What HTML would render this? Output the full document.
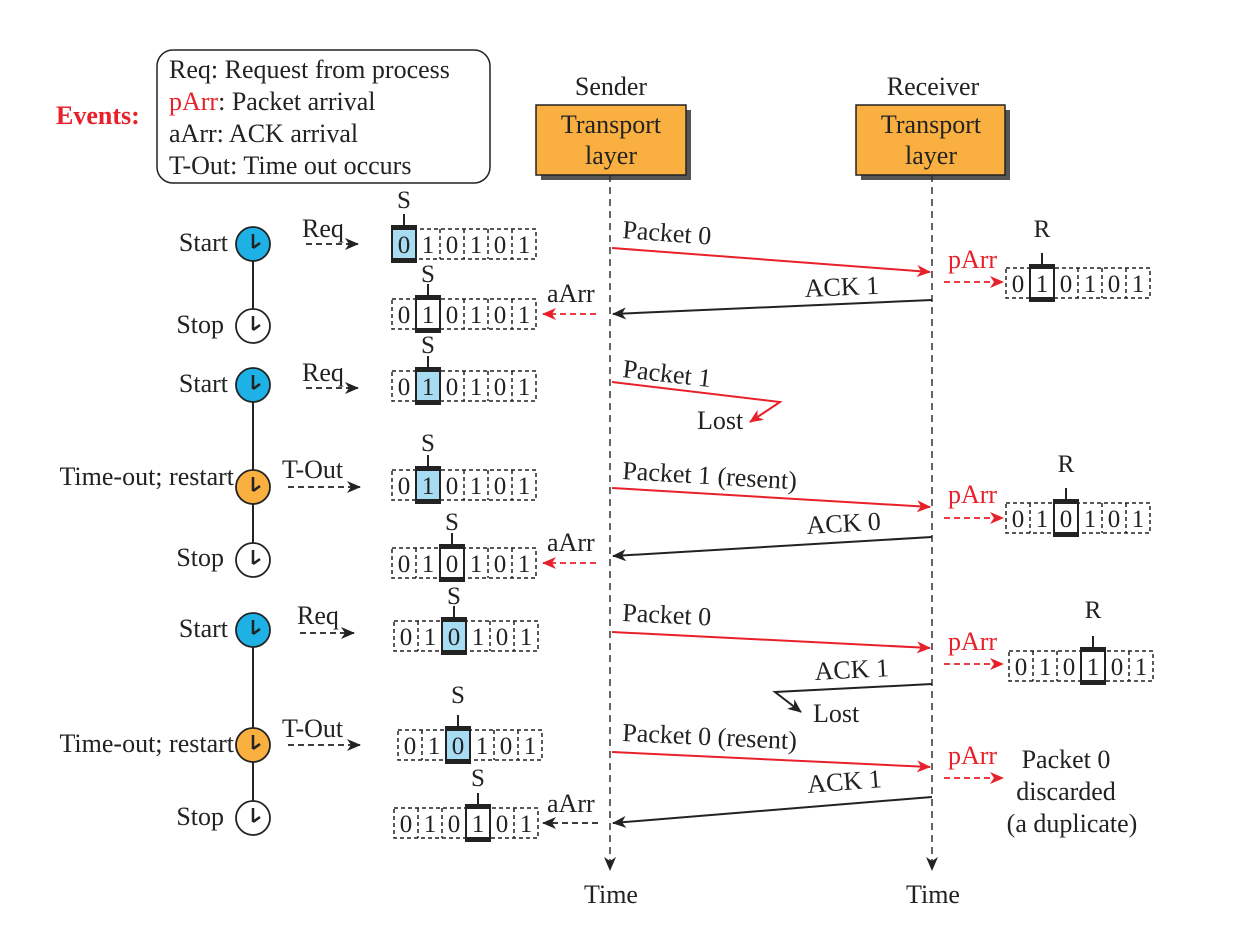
<!DOCTYPE html>
<html><head><meta charset="utf-8"><style>
html,body{margin:0;padding:0;background:#fff;}
svg{display:block;font-family:"Liberation Serif",serif;}
</style></head><body>
<svg width="1238" height="926" viewBox="0 0 1238 926" xmlns="http://www.w3.org/2000/svg">
<defs>
<marker id="ab" markerWidth="14" markerHeight="12" refX="13" refY="6" orient="auto" markerUnits="userSpaceOnUse"><path d="M0,0 L14,6 L0,12 L4,6 Z" fill="#222"/></marker>
<marker id="ar" markerWidth="14" markerHeight="12" refX="13" refY="6" orient="auto" markerUnits="userSpaceOnUse"><path d="M0,0 L14,6 L0,12 L4,6 Z" fill="#e8202a"/></marker>
<g id="strip"><rect x="0" y="-15" width="144" height="30" fill="none" stroke="#222" stroke-width="1.5" stroke-dasharray="4,3"/>
<g stroke="#222" stroke-width="1.5" stroke-dasharray="4,3"><line x1="24" y1="-15" x2="24" y2="15"/><line x1="48" y1="-15" x2="48" y2="15"/><line x1="72" y1="-15" x2="72" y2="15"/><line x1="96" y1="-15" x2="96" y2="15"/><line x1="120" y1="-15" x2="120" y2="15"/></g></g>
<g id="hb"><rect x="0" y="-15" width="24" height="30" fill="#a8dcf3" stroke="#222" stroke-width="2"/><rect x="-1" y="-19" width="26" height="5" fill="#222"/><rect x="-1" y="14" width="26" height="5" fill="#222"/><line x1="12" y1="-19" x2="12" y2="-30" stroke="#222" stroke-width="2"/></g>
<g id="hw"><rect x="0" y="-15" width="24" height="30" fill="#fff" stroke="#222" stroke-width="2"/><rect x="-1" y="-19" width="26" height="5" fill="#222"/><rect x="-1" y="14" width="26" height="5" fill="#222"/><line x1="12" y1="-19" x2="12" y2="-30" stroke="#222" stroke-width="2"/></g>
<g id="hand"><line x1="0" y1="4" x2="0" y2="-10" stroke="#222" stroke-width="2.5"/><line x1="0" y1="4" x2="7" y2="-1" stroke="#222" stroke-width="2.5"/></g>
</defs>

<rect x="157" y="50" width="333" height="133" rx="16" fill="#fff" stroke="#222" stroke-width="1.5"/>
<g font-size="26" fill="#222">
<text x="169" y="78">Req: Request from process</text>
<text x="169" y="110"><tspan fill="#e8202a">pArr</tspan>: Packet arrival</text>
<text x="169" y="142">aArr: ACK arrival</text>
<text x="169" y="174">T-Out: Time out occurs</text>
</g>
<text x="56" y="124" font-size="26" font-weight="bold" fill="#e8202a">Events:</text>

<text x="611" y="95" font-size="26" text-anchor="middle" fill="#222">Sender</text>
<text x="933" y="95" font-size="26" text-anchor="middle" fill="#222">Receiver</text>
<rect x="541" y="110" width="150" height="70" fill="#555"/>
<rect x="536" y="105" width="150" height="70" fill="#f9b040" stroke="#222" stroke-width="1.5"/>
<rect x="861" y="110" width="149" height="70" fill="#555"/>
<rect x="856" y="105" width="149" height="70" fill="#f9b040" stroke="#222" stroke-width="1.5"/>
<g font-size="26" text-anchor="middle" fill="#222">
<text x="611" y="133">Transport</text><text x="611" y="164">layer</text>
<text x="931" y="133">Transport</text><text x="931" y="164">layer</text>
</g>

<line x1="610" y1="175" x2="610" y2="870" stroke="#333" stroke-width="1.5" stroke-dasharray="7,5" marker-end="url(#ab)"/>
<line x1="932" y1="175" x2="932" y2="870" stroke="#333" stroke-width="1.5" stroke-dasharray="7,5" marker-end="url(#ab)"/>
<text x="611" y="903" font-size="26" text-anchor="middle" fill="#222">Time</text>
<text x="933" y="903" font-size="26" text-anchor="middle" fill="#222">Time</text>

<g stroke="#222" stroke-width="2"><line x1="253" y1="244" x2="253" y2="326"/><line x1="253" y1="385" x2="253" y2="560"/><line x1="253" y1="630" x2="253" y2="818"/></g>
<g stroke="#222" stroke-width="1.8">
<circle cx="253" cy="244" r="17" fill="#1eb1e6"/><circle cx="253" cy="326" r="17" fill="#fff"/>
<circle cx="253" cy="385" r="17" fill="#1eb1e6"/><circle cx="253" cy="487" r="17" fill="#f9b040"/>
<circle cx="253" cy="560" r="17" fill="#fff"/><circle cx="253" cy="630" r="17" fill="#1eb1e6"/>
<circle cx="253" cy="745" r="17" fill="#f9b040"/><circle cx="253" cy="818" r="17" fill="#fff"/>
</g>
<use href="#hand" x="253" y="244"/><use href="#hand" x="253" y="326"/><use href="#hand" x="253" y="385"/><use href="#hand" x="253" y="487"/><use href="#hand" x="253" y="560"/><use href="#hand" x="253" y="630"/><use href="#hand" x="253" y="745"/><use href="#hand" x="253" y="818"/>
<g font-size="26" fill="#222" text-anchor="end">
<text x="228" y="251">Start</text><text x="224" y="333">Stop</text><text x="228" y="392">Start</text>
<text x="234" y="485">Time-out; restart</text><text x="224" y="566">Stop</text><text x="228" y="637">Start</text>
<text x="234" y="752">Time-out; restart</text><text x="224" y="825">Stop</text>
</g>

<g stroke="#222" stroke-width="1.8" stroke-dasharray="6,4" fill="none">
<line x1="306" y1="244" x2="358" y2="244" marker-end="url(#ab)"/>
<line x1="306" y1="388" x2="358" y2="388" marker-end="url(#ab)"/>
<line x1="288" y1="487" x2="360" y2="487" marker-end="url(#ab)"/>
<line x1="300" y1="633" x2="354" y2="633" marker-end="url(#ab)"/>
<line x1="288" y1="745" x2="360" y2="745" marker-end="url(#ab)"/>
<line x1="598" y1="823" x2="543" y2="823" marker-end="url(#ab)"/>
</g>
<g stroke="#e8202a" stroke-width="1.8" stroke-dasharray="6,4" fill="none">
<line x1="596" y1="314" x2="543" y2="314" marker-end="url(#ar)"/>
<line x1="596" y1="563" x2="543" y2="563" marker-end="url(#ar)"/>
<line x1="944" y1="282" x2="1003" y2="282" marker-end="url(#ar)"/>
<line x1="944" y1="518" x2="1003" y2="518" marker-end="url(#ar)"/>
<line x1="944" y1="664" x2="1003" y2="664" marker-end="url(#ar)"/>
<line x1="944" y1="778" x2="1003" y2="778" marker-end="url(#ar)"/>
</g>
<g font-size="26" fill="#222">
<text x="302" y="237">Req</text><text x="302" y="381">Req</text><text x="282" y="478">T-Out</text>
<text x="297" y="624">Req</text><text x="282" y="737">T-Out</text>
<text x="547" y="302">aArr</text><text x="547" y="551">aArr</text><text x="547" y="812">aArr</text>
</g>
<g font-size="26" fill="#e8202a">
<text x="948" y="268">pArr</text><text x="948" y="503">pArr</text><text x="948" y="650">pArr</text><text x="948" y="764">pArr</text>
</g>
<g font-size="26" fill="#222" text-anchor="middle">
<text x="1066" y="768">Packet 0</text><text x="1066" y="800">discarded</text><text x="1072" y="832">(a duplicate)</text>
</g>

<g stroke="#e8202a" stroke-width="2" fill="none">
<line x1="612" y1="248" x2="930" y2="272" marker-end="url(#ar)"/>
<polyline points="612,382 780,402 750,422" marker-end="url(#ar)"/>
<line x1="612" y1="488" x2="930" y2="507" marker-end="url(#ar)"/>
<line x1="612" y1="632" x2="930" y2="648" marker-end="url(#ar)"/>
<line x1="612" y1="752" x2="930" y2="767" marker-end="url(#ar)"/>
</g>
<g stroke="#222" stroke-width="2" fill="none">
<line x1="932" y1="300" x2="613" y2="314" marker-end="url(#ab)"/>
<line x1="932" y1="537" x2="613" y2="556" marker-end="url(#ab)"/>
<polyline points="932,684 775,692 801,712" marker-end="url(#ab)"/>
<line x1="932" y1="797" x2="613" y2="823" marker-end="url(#ab)"/>
</g>
<g font-size="26" fill="#222">
<text x="622" y="238" transform="rotate(4.3 622 238)">Packet 0</text>
<text x="622" y="377" transform="rotate(6.5 622 377)">Packet 1</text>
<text x="697" y="429">Lost</text>
<text x="622" y="479" transform="rotate(3.4 622 479)">Packet 1 (resent)</text>
<text x="622" y="621" transform="rotate(2.9 622 621)">Packet 0</text>
<text x="622" y="741" transform="rotate(2.7 622 741)">Packet 0 (resent)</text>
<text x="813" y="722">Lost</text>
<text x="805" y="297" transform="rotate(-2.5 805 297)">ACK 1</text>
<text x="807" y="534" transform="rotate(-3.4 807 534)">ACK 0</text>
<text x="815" y="680" transform="rotate(-2.9 815 680)">ACK 1</text>
<text x="808" y="793" transform="rotate(-4.6 808 793)">ACK 1</text>
</g>

<g font-size="25" fill="#222" text-anchor="middle">
<g transform="translate(392,244)"><use href="#strip"/><use href="#hb" x="0"/><text x="12" y="-36">S</text>
<text x="12" y="9">0</text><text x="36" y="9">1</text><text x="60" y="9">0</text><text x="84" y="9">1</text><text x="108" y="9">0</text><text x="132" y="9">1</text></g>
<g transform="translate(392,314)"><use href="#strip"/><use href="#hw" x="24"/><text x="36" y="-32">S</text>
<text x="12" y="9">0</text><text x="36" y="9">1</text><text x="60" y="9">0</text><text x="84" y="9">1</text><text x="108" y="9">0</text><text x="132" y="9">1</text></g>
<g transform="translate(392,386)"><use href="#strip"/><use href="#hb" x="24"/><text x="36" y="-33">S</text>
<text x="12" y="9">0</text><text x="36" y="9">1</text><text x="60" y="9">0</text><text x="84" y="9">1</text><text x="108" y="9">0</text><text x="132" y="9">1</text></g>
<g transform="translate(392,485)"><use href="#strip"/><use href="#hb" x="24"/><text x="36" y="-34">S</text>
<text x="12" y="9">0</text><text x="36" y="9">1</text><text x="60" y="9">0</text><text x="84" y="9">1</text><text x="108" y="9">0</text><text x="132" y="9">1</text></g>
<g transform="translate(392,563)"><use href="#strip"/><use href="#hw" x="48"/><text x="60" y="-33">S</text>
<text x="12" y="9">0</text><text x="36" y="9">1</text><text x="60" y="9">0</text><text x="84" y="9">1</text><text x="108" y="9">0</text><text x="132" y="9">1</text></g>
<g transform="translate(394,636)"><use href="#strip"/><use href="#hb" x="48"/><text x="60" y="-32">S</text>
<text x="12" y="9">0</text><text x="36" y="9">1</text><text x="60" y="9">0</text><text x="84" y="9">1</text><text x="108" y="9">0</text><text x="132" y="9">1</text></g>
<g transform="translate(398,745)"><use href="#strip"/><use href="#hb" x="48"/><text x="60" y="-42">S</text>
<text x="12" y="9">0</text><text x="36" y="9">1</text><text x="60" y="9">0</text><text x="84" y="9">1</text><text x="108" y="9">0</text><text x="132" y="9">1</text></g>
<g transform="translate(394,823)"><use href="#strip"/><use href="#hw" x="72"/><text x="84" y="-37">S</text>
<text x="12" y="9">0</text><text x="36" y="9">1</text><text x="60" y="9">0</text><text x="84" y="9">1</text><text x="108" y="9">0</text><text x="132" y="9">1</text></g>

<g transform="translate(1006,283)"><use href="#strip"/><use href="#hw" x="24"/><text x="36" y="-46">R</text>
<text x="12" y="9">0</text><text x="36" y="9">1</text><text x="60" y="9">0</text><text x="84" y="9">1</text><text x="108" y="9">0</text><text x="132" y="9">1</text></g>
<g transform="translate(1006,518)"><use href="#strip"/><use href="#hw" x="48"/><text x="60" y="-46">R</text>
<text x="12" y="9">0</text><text x="36" y="9">1</text><text x="60" y="9">0</text><text x="84" y="9">1</text><text x="108" y="9">0</text><text x="132" y="9">1</text></g>
<g transform="translate(1009,666)"><use href="#strip"/><use href="#hw" x="72"/><text x="84" y="-48">R</text>
<text x="12" y="9">0</text><text x="36" y="9">1</text><text x="60" y="9">0</text><text x="84" y="9">1</text><text x="108" y="9">0</text><text x="132" y="9">1</text></g>
</g>
</svg>
</body></html>
